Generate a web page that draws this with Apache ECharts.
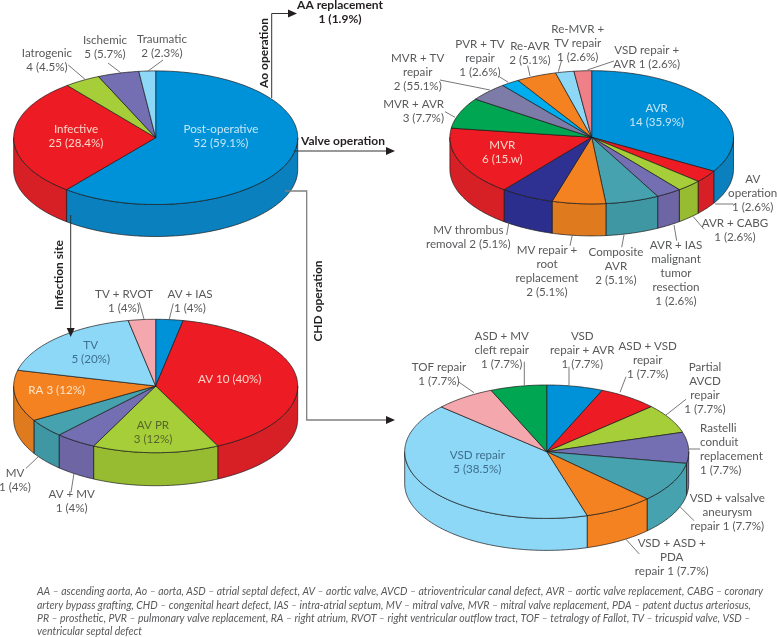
<!DOCTYPE html>
<html><head><meta charset="utf-8">
<style>html,body{margin:0;padding:0;background:#fff}#c{width:777px;height:637px}</style>
<script src="https://cdn.jsdelivr.net/npm/echarts@6/dist/echarts.min.js"></script>
</head><body><div id="c"></div>
<script>
// ---- data (sector sweep as drawn, % of the full turn, clockwise from 12 o'clock)
const etiologyCategories = ["Post-operative","Infective","Iatrogenic","Ischemic","Traumatic"];
const etiologyShares = [60.8,28.5,4.1,4.7,1.9];
const etiologyLabels = ["Post-operative\n52 (59.1%)","Infective\n25 (28.4%)","Iatrogenic\n4 (4.5%)","Ischemic\n5 (5.7%)","Traumatic\n2 (2.3%)"];

const valveCategories = ["AVR","AV operation","AVR + CABG","AVR + IAS malignant tumor resection","Composite AVR","MV repair + root replacement","MV thrombus removal","MVR","MVR + AVR","MVR + TV repair","PVR + TV repair","Re-AVR","Re-MVR + TV repair","VSD repair + AVR"];
const valveShares = [33.5,3,2.9,2.9,6.1,6.1,6.1,16.6,7.5,4.5,2.1,4.6,2.1,2];
const valveLabels = ["AVR\n14 (35.9%)","AV\noperation\n1 (2.6%)","AVR + CABG\n1 (2.6%)","AVR + IAS\nmalignant\ntumor\nresection\n1 (2.6%)","Composite\nAVR\n2 (5.1%)","MV repair +\nroot\nreplacement\n2 (5.1%)","MV thrombus\nremoval 2 (5.1%)","MVR\n6 (15.w)","MVR + AVR\n3 (7.7%)","MVR + TV\nrepair\n2 (55.1%)","PVR + TV\nrepair\n1 (2.6%)","Re-AVR\n2 (5.1%)","Re-MVR +\nTV repair\n1 (2.6%)","VSD repair +\nAVR 1 (2.6%)"];

const siteCategories = ["AV + IAS","AV","AV PR","AV + MV","MV","RA","TV","TV + RVOT"];
const siteShares = [3.1,39.7,14.4,4.7,4.5,12.4,18.1,3.1];
const siteLabels = ["AV + IAS\n1 (4%)","AV 10 (40%)","AV PR\n3 (12%)","AV + MV\n1 (4%)","MV\n1 (4%)","RA 3 (12%)","TV\n5 (20%)","TV + RVOT\n1 (4%)"];

const chdCategories = ["VSD repair + AVR","ASD + VSD repair","Partial AVCD repair","Rastelli conduit replacement","VSD + valsalve aneurysm repair","VSD + ASD + PDA repair","VSD repair","TOF repair","ASD + MV cleft repair"];
const chdShares = [6.4,6.8,7.1,7.5,9.7,7.9,41.3,6.9,6.4];
const chdLabels = ["VSD\nrepair + AVR\n1 (7.7%)","ASD + VSD\nrepair\n1 (7.7%)","Partial\nAVCD\nrepair\n1 (7.7%)","Rastelli\nconduit\nreplacement\n1 (7.7%)","VSD + valsalve\naneurysm\nrepair 1 (7.7%)","VSD + ASD +\nPDA\nrepair 1 (7.7%)","VSD repair\n5 (38.5%)","TOF repair\n1 (7.7%)","ASD + MV\ncleft repair\n1 (7.7%)"];

const footnoteLines = [
 "AA – ascending aorta, Ao – aorta, ASD – atrial septal defect, AV – aortic valve, AVCD – atrioventricular canal defect, AVR – aortic valve replacement, CABG – coronary",
 "artery bypass grafting, CHD – congenital heart defect, IAS – intra-atrial septum, MV – mitral valve, MVR – mitral valve replacement, PDA – patent ductus arteriosus,",
 "PR – prosthetic, PVR – pulmonary valve replacement, RA – right atrium, RVOT – right ventricular outflow tract, TOF – tetralogy of Fallot, TV – tricuspid valve, VSD –",
 "ventricular septal defect"];

// ---- styles and layout
const C = {blue:'#0092d8',red:'#ed1c24',green:'#a6ce39',purple:'#746fb2',teal:'#46a2ae',orange:'#f58220',sky:'#8dd7f7',pink:'#f4a8ae',navy:'#2e3192',emerald:'#00a651',slate:'#7d7ca8',cyan:'#00aeef',salmon:'#f08088'};
const S = {blue:'#0a80bf',red:'#d71f26',green:'#97bc31',purple:'#6e65a5',teal:'#3f97a3',orange:'#df7a1e',sky:'#8dd7f7',pink:'#f4a8ae',navy:'#2b2e8c',emerald:'#00964a',slate:'#7170a0',cyan:'#009fdc',salmon:'#dc7078'};
const pies = [
 {name:'Etiology',shares:etiologyShares,names:etiologyCategories,cx:155.7,cy:137.7,rx:142,ry:66.8,d:32,colors:['blue','red','green','purple','sky'],flat:false},
 {name:'Valve operation',shares:valveShares,names:valveCategories,cx:591.7,cy:137.3,rx:141.8,ry:66.6,d:32,colors:['blue','red','green','purple','teal','orange','navy','red','emerald','slate','cyan','orange','sky','salmon'],flat:false},
 {name:'Infection site',shares:siteShares,names:siteCategories,cx:155.7,cy:386,rx:142,ry:66.7,d:33,colors:['blue','red','green','purple','teal','orange','sky','pink'],flat:false},
 {name:'CHD operation',shares:chdShares,names:chdCategories,cx:546.7,cy:451.7,rx:142,ry:66.7,d:32,colors:['blue','red','green','purple','teal','orange','sky','pink','emerald'],flat:true}
];
const GR='#58595b', DK='#231f20';
const font = (s,w,st)=>`${st||'normal'} ${w||400} ${s}px Lato`;
const INK = '#1a1a1a';

function makeSeries(p){
  const total = p.shares.reduce((a,b)=>a+b,0);
  let acc = 0;
  const data = p.shares.map((v,i)=>{const r={name:p.names[i],value:[acc,acc+v,i]};acc+=v;return r;});
  return {
    type:'custom', name:p.name, coordinateSystem:'none', z:2, silent:true, clip:false,
    encode:{}, data,
    renderItem:function(params,api){
      const a0=api.value(0)/total*360, a1=api.value(1)/total*360, idx=api.value(2);
      const pt=(a,off)=>{const t=a*Math.PI/180;return [p.cx+p.rx*Math.sin(t),p.cy-p.ry*Math.cos(t)+(off||0)];};
      const arc=(a,b,off)=>{const n=Math.max(2,Math.ceil(Math.abs(b-a)));const o=[];for(let i=0;i<=n;i++)o.push(pt(a+(b-a)*i/n,off));return o;};
      const key=p.colors[idx];
      const children=[];
      const s0=Math.max(a0,90), s1=Math.min(a1,270);
      if(s1>s0){
        const pts=arc(s0,s1,0).concat(arc(s1,s0,p.d));
        children.push({type:'polygon',shape:{points:pts},style:{fill:p.flat?C[key]:S[key],stroke:INK,lineWidth:0.7,lineJoin:'round'}});
      }
      const top=[[p.cx,p.cy]].concat(arc(a0,a1,0));
      children.push({type:'polygon',z2:5,shape:{points:top},style:{fill:C[key],stroke:INK,lineWidth:0.7,lineJoin:'round'}});
      return {type:'group',children};
    }
  };
}

// ---- text placement: [label, centre x, centre y, colour, align]
const LT_B='#c5e6f7', LT_R='#fbd5c8', LT_O='#fde3c8';
const placed = [
 [etiologyLabels[0],221,136,LT_B],[etiologyLabels[1],76,136,LT_R],[etiologyLabels[2],47,60,GR],[etiologyLabels[3],105,47.5,GR],[etiologyLabels[4],162,46,GR],
 [valveLabels[0],656.7,115,LT_B],[valveLabels[1],752.7,193,GR],[valveLabels[2],735,230,GR],[valveLabels[3],676,273.3,GR],[valveLabels[4],616,266.7,GR],[valveLabels[5],547,271,GR],[valveLabels[6],468.3,237.3,GR],[valveLabels[7],502.3,152,LT_R],[valveLabels[8],444,111,GR,'right'],[valveLabels[9],417.7,72.3,GR],[valveLabels[10],480,58,GR],[valveLabels[11],530,53.7,GR],[valveLabels[12],577.7,43.3,GR],[valveLabels[13],646.7,57.7,GR],
 [siteLabels[0],190,301.7,GR],[siteLabels[1],229.7,379,LT_R],[siteLabels[2],153,432.7,'#55652a'],[siteLabels[3],71.7,501,GR],[siteLabels[4],15,480,GR],[siteLabels[5],56.7,390,LT_O],[siteLabels[6],90.7,352,'#3f6f8e'],[siteLabels[7],124,301,GR],
 [chdLabels[0],582.3,350,GR],[chdLabels[1],647.7,360.7,GR],[chdLabels[2],705,388.3,GR],[chdLabels[3],700,449,GR,'left'],[chdLabels[4],727.3,512.3,GR],[chdLabels[5],671.7,557.7,GR],[chdLabels[6],477.3,462.7,'#3f6f8e'],[chdLabels[7],439,374.7,GR],[chdLabels[8],501.7,350.7,GR]
];
const leaders = [
 [68.3,65,85,79.3],[108,63,120.7,72.7],[163,60,147.7,71.3],
 [561.7,60,558.3,71.7],[614,61,587.3,70],[527.7,65.7,530,76],[499.3,76.7,508.3,82.3],[440,80,490,90],[445,111.7,455,117.3],[715,204,733.3,204],[693.3,216.7,704,229.3],[674,225,676.7,240.7],[624,235,621.7,247.3],[572.3,235,570,245.7],[509,221.7,506.7,235],
 [139.3,302.3,144,319],[173.3,303.3,169.3,319],[26,468.3,38.3,456.7],[71,492.3,74,473.3],
 [458.3,381.7,474,392.7],[524.3,361.7,524.3,385],[569,366.7,569,385],[626,376.7,620,392.3],[686,399.3,666,415],[688,449,700,449],[680,506.7,694,520.7],[626,539.3,639.3,554]
];
const elements = [];
leaders.forEach(l=>elements.push({type:'line',z:8,shape:{x1:l[0],y1:l[1],x2:l[2],y2:l[3]},style:{stroke:'#555',lineWidth:0.8}}));
placed.forEach(t=>elements.push({type:'text',z:10,x:t[1],y:t[2],style:{text:t[0],fill:t[3],font:font(11.6),lineHeight:14,align:t[4]||'center',verticalAlign:'middle',textAlign:t[4]||'center',textVerticalAlign:'middle'}}));
// connector arrows
const conn=(pts,col,w)=>elements.push({type:'polyline',z:8,shape:{points:pts},style:{stroke:col,lineWidth:w,fill:null}});
const head=(pts)=>elements.push({type:'polygon',z:9,shape:{points:pts},style:{fill:DK}});
conn([[271.7,98],[271.7,13.5],[290,13.5]],'#333',1); head([[288,9.5],[297,13.5],[288,17.5]]);
conn([[293.7,151],[388,151]],'#333',1); head([[386,147],[395,151],[386,155]]);
conn([[285,191],[306.7,191],[306.7,420],[388,420]],'#808080',1.3); head([[386,416],[395,420],[386,424]]);
conn([[70.7,215],[70.7,331]],'#333',1); head([[66.7,328],[70.7,337],[74.7,328]]);
// heading texts
const bold=(text,x,y,rot)=>elements.push({type:'text',z:10,x,y,rotation:rot||0,style:{text,fill:DK,font:font(12,700),lineHeight:14,align:'center',verticalAlign:'middle',textAlign:'center',textVerticalAlign:'middle'}});
bold('AA replacement\n1 (1.9%)',340,12);
bold('Valve operation',343,141);
bold('Ao operation',264,53,Math.PI/2);
bold('Infection site',59,275,Math.PI/2);
bold('CHD operation',318,301,Math.PI/2);
// footnote, squeezed horizontally to the narrow width of the reference's italic
const footY=[591.5,605,618,631.5];
const footFont='italic 400 12px Lato';
const mctx=document.createElement('canvas').getContext('2d');mctx.font=footFont;
const footScale=726/mctx.measureText(footnoteLines[0]).width;
footnoteLines.forEach((l,i)=>elements.push({type:'text',z:10,x:37,y:footY[i],scaleX:footScale,style:{text:l,fill:'#58595b',font:footFont,align:'left',verticalAlign:'middle',textAlign:'left',textVerticalAlign:'middle'}}));

const chart = echarts.init(document.getElementById('c'),null,{renderer:'canvas'});
chart.setOption({animation:false,backgroundColor:'#fff',series:pies.map(makeSeries),graphic:{elements}});
</script></body></html>
